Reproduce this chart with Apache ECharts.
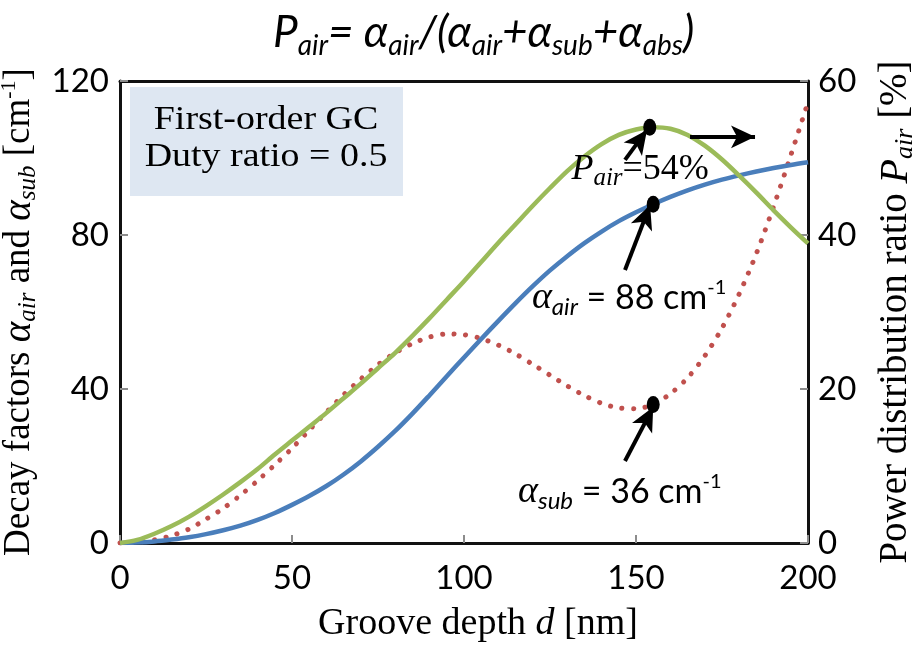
<!DOCTYPE html>
<html>
<head>
<meta charset="utf-8">
<script src="https://cdn.jsdelivr.net/npm/echarts@6/dist/echarts.min.js"></script>
<style>
  html, body { margin: 0; padding: 0; background: #ffffff; }
  #chart { width: 914px; height: 650px; }
</style>
</head>
<body>
<div id="chart"></div>
<script>
// Groove depth d [nm]
const depth = [0, 5, 10, 15, 20, 25, 30, 35, 40, 45, 50, 55, 60, 65, 70, 75, 80, 85, 90, 95,
  100, 105, 110, 115, 120, 125, 130, 135, 140, 145, 150, 155, 160, 165, 170, 175, 180, 185, 190, 195, 200];

// Decay factor into air, alpha_air [cm^-1]
const alphaAir = [0, 0.1, 0.4, 0.9, 1.5, 2.3, 3.3, 4.5, 6.0, 7.8, 9.9, 12.2, 14.8, 17.8, 21.2, 25.0, 29.1, 33.6, 38.4, 43.3,
  48.2, 53.0, 57.7, 62.3, 66.7, 70.8, 74.5, 77.9, 80.9, 83.6, 85.9, 88.0, 89.9, 91.6, 93.1, 94.4, 95.5, 96.5, 97.4, 98.2, 98.9];

// Decay factor into substrate, alpha_sub [cm^-1]
const alphaSub = [0, 0.2, 0.8, 1.9, 3.6, 6.2, 9.0, 12.4, 16.2, 20.3, 24.6, 29.3, 34.0, 38.5, 42.6, 46.3, 49.4, 51.8, 53.5, 54.3,
  54.1, 53.1, 51.4, 49.1, 46.4, 43.6, 40.8, 38.3, 36.3, 35.1, 34.9, 36.0, 38.8, 42.9, 48.6, 55.8, 64.7, 75.2, 87.4, 100.7, 114.5];

// Power distribution ratio P_air [%]
const pAir = [0, 0.4, 1.2, 2.2, 3.4, 4.8, 6.3, 7.9, 9.6, 11.5, 13.3, 15.1, 16.9, 18.8, 20.7, 22.7, 24.7, 26.9, 29.2, 31.6,
  34.0, 36.5, 39.0, 41.4, 43.8, 46.1, 48.3, 50.2, 51.8, 53.0, 53.7, 54.0, 53.8, 53.0, 51.6, 49.8, 47.7, 45.5, 43.2, 41.0, 38.9];

// Highlighted points: [d, value]
const markerPAir = [154, 54];
const markerAir = [155, 88];
const markerSub = [155, 36];

// Axis ranges: [min, max, interval]
const xRange = [0, 200, 50];
const leftRange = [0, 120, 40];
const rightRange = [0, 60, 20];

const SERIF = 'Liberation Serif';
const SANS = 'Lato';
const pairs = (xs, ys) => xs.map((x, i) => [x, ys[i]]);

const chart = echarts.init(document.getElementById('chart'), null, { renderer: 'canvas' });

const frameLine = { show: true, onZero: false, lineStyle: { color: '#111', width: 3 } };
const tickStyle = { show: true, inside: true, length: 8, lineStyle: { color: '#8c8c8c', width: 2 } };
const labelStyle = { color: '#000', fontFamily: SANS, fontSize: 33 };

const richLabel = {
  a: { fontFamily: SERIF, fontStyle: 'italic', fontSize: 38, lineHeight: 42, color: '#000' },
  s: { fontFamily: SANS, fontStyle: 'italic', fontWeight: 'normal', fontSize: 24, lineHeight: 24, verticalAlign: 'bottom', color: '#000' },
  t: { fontFamily: SANS, fontSize: 34, lineHeight: 42, color: '#000' },
  p: { fontFamily: SANS, fontSize: 20, lineHeight: 20, verticalAlign: 'top', color: '#000' }
};

const arrowLine = (from, to) => [{ coord: from }, { coord: to }];

const option = {
  animation: false,
  backgroundColor: '#ffffff',
  title: {
    text: '{i|P}{s|air}{i|= α}{s|air}{i|/(α}{s|air}{i|+α}{s|sub}{i|+α}{s|abs}{i|)}',
    left: 268,
    top: 1,
    textStyle: {
      rich: {
        i: { fontFamily: SANS, fontStyle: 'italic', fontWeight: 'normal', fontSize: 44, lineHeight: 54, color: '#000' },
        s: { fontFamily: SANS, fontStyle: 'italic', fontWeight: 'normal', fontSize: 28, lineHeight: 28, verticalAlign: 'bottom', color: '#000' }
      }
    }
  },
  grid: {
    left: 120, right: 106, top: 81, bottom: 107,
    show: false,
    containLabel: false,
    outerBoundsMode: 'none'
  },
  xAxis: [
    {
      type: 'value', min: xRange[0], max: xRange[1], interval: xRange[2],
      position: 'bottom',
      splitLine: { show: false },
      axisLine: frameLine,
      axisTick: tickStyle,
      axisLabel: Object.assign({ margin: 19 }, labelStyle),
      name: '{t|Groove depth }{i|d}{t| [nm]}',
      nameLocation: 'middle',
      nameGap: 62,
      nameTextStyle: {
        padding: [0, 0, 0, 28],
        rich: {
          t: { fontFamily: SERIF, fontSize: 38, color: '#000' },
          i: { fontFamily: SERIF, fontStyle: 'italic', fontSize: 38, color: '#000' }
        }
      }
    },
    {
      type: 'value', min: xRange[0], max: xRange[1], interval: xRange[2],
      position: 'top',
      splitLine: { show: false },
      axisLine: frameLine,
      axisTick: { show: false },
      axisLabel: { show: false }
    }
  ],
  yAxis: [
    {
      type: 'value', min: leftRange[0], max: leftRange[1], interval: leftRange[2],
      position: 'left',
      splitLine: { show: false },
      axisLine: frameLine,
      axisTick: tickStyle,
      axisLabel: Object.assign({ margin: 11 }, labelStyle),
      name: '{t|Decay factors }{a|α}{s|air}{t| and }{a|α}{s|sub}{t| [cm}{p|-1}{t|]}',
      nameLocation: 'middle',
      nameRotate: 90,
      nameGap: 70,
      nameTextStyle: {
        rich: {
          t: { fontFamily: SERIF, fontSize: 37, lineHeight: 42, color: '#000' },
          a: { fontFamily: SERIF, fontStyle: 'italic', fontSize: 39, lineHeight: 42, color: '#000' },
          s: { fontFamily: SERIF, fontStyle: 'italic', fontSize: 25, lineHeight: 25, verticalAlign: 'bottom', color: '#000' },
          p: { fontFamily: SERIF, fontSize: 22, lineHeight: 22, verticalAlign: 'top', color: '#000' }
        }
      }
    },
    {
      type: 'value', min: rightRange[0], max: rightRange[1], interval: rightRange[2],
      position: 'right',
      splitLine: { show: false },
      axisLine: frameLine,
      axisTick: tickStyle,
      axisLabel: Object.assign({ margin: 10 }, labelStyle),
      name: '{t|Power distribution ratio }{i|P}{s|air}{t| [%]}',
      nameLocation: 'middle',
      nameRotate: 90,
      nameGap: 66,
      nameTextStyle: {
        rich: {
          t: { fontFamily: SERIF, fontSize: 39, lineHeight: 44, color: '#000' },
          i: { fontFamily: SERIF, fontStyle: 'italic', fontSize: 40, lineHeight: 44, color: '#000' },
          s: { fontFamily: SERIF, fontStyle: 'italic', fontSize: 26, lineHeight: 26, verticalAlign: 'bottom', color: '#000' }
        }
      }
    }
  ],
  graphic: [
    {
      type: 'rect', z: 5,
      shape: { x: 130, y: 87, width: 273, height: 109 },
      style: { fill: '#dee7f2' }
    },
    {
      type: 'text', z: 6, x: 266, y: 139,
      scaleX: 1.15, originX: 0, originY: 0,
      style: {
        text: 'First-order GC\nDuty ratio = 0.5',
        font: '33px "Liberation Serif"',
        lineHeight: 37,
        textAlign: 'center',
        textVerticalAlign: 'middle',
        fill: '#000'
      }
    }
  ],
  series: [
    {
      name: 'alpha_sub', type: 'line', xAxisIndex: 0, yAxisIndex: 0,
      data: pairs(depth, alphaSub),
      smooth: 0.3, showSymbol: false,
      lineStyle: { color: '#c0504d', width: 5, type: [0.1, 11.5], cap: 'round' },
      z: 2
    },
    {
      name: 'alpha_air', type: 'line', xAxisIndex: 0, yAxisIndex: 0,
      data: pairs(depth, alphaAir),
      smooth: 0.3, showSymbol: false,
      lineStyle: { color: '#4a7ebb', width: 4.5 },
      z: 3
    },
    {
      name: 'P_air', type: 'line', xAxisIndex: 0, yAxisIndex: 1,
      data: pairs(depth, pAir),
      smooth: 0.3, showSymbol: false,
      lineStyle: { color: '#9bbb59', width: 4.5 },
      z: 4
    },
    {
      name: 'alpha points', type: 'scatter', xAxisIndex: 0, yAxisIndex: 0,
      data: [markerAir, markerSub],
      symbol: 'circle', symbolSize: [13, 17],
      itemStyle: { color: '#000', opacity: 1 },
      z: 10,
      markLine: {
        silent: true, animation: false,
        symbol: ['none', 'arrow'], symbolSize: [17, 24],
        lineStyle: { color: '#000', width: 4, type: 'solid', opacity: 1 },
        label: { show: false },
        data: [
          arrowLine([146.8, 70.9], [154.1, 87.8]),
          arrowLine([146.8, 21.3], [155.0, 35.3]),
          arrowLine([165.7, 105.5], [184.6, 105.5])
        ]
      },
      markPoint: {
        silent: true, symbol: 'circle', symbolSize: 0,
        data: [
          {
            coord: [148, 63.6],
            label: { show: true, position: 'inside', formatter: '{a|α}{s|air}{t| = ' + markerAir[1] + ' cm}{p|-1}', rich: richLabel }
          },
          {
            coord: [145.3, 13.2],
            label: { show: true, position: 'inside', formatter: '{a|α}{s|sub}{t| = ' + markerSub[1] + ' cm}{p|-1}', rich: richLabel }
          }
        ]
      }
    },
    {
      name: 'P point', type: 'scatter', xAxisIndex: 0, yAxisIndex: 1,
      data: [markerPAir],
      symbol: 'circle', symbolSize: [13, 17],
      itemStyle: { color: '#000', opacity: 1 },
      z: 10,
      markLine: {
        silent: true, animation: false,
        symbol: ['none', 'arrow'], symbolSize: [17, 24],
        lineStyle: { color: '#000', width: 4, type: 'solid', opacity: 1 },
        label: { show: false },
        data: [
          arrowLine([146.8, 49.75], [153.2, 53.65])
        ]
      },
      markPoint: {
        silent: true, symbol: 'circle', symbolSize: 0,
        data: [
          {
            coord: [151.2, 48.45],
            label: {
              show: true, position: 'inside',
              formatter: '{i|P}{s|air}{t|=' + markerPAir[1] + '%}',
              rich: {
                i: { fontFamily: SERIF, fontStyle: 'italic', fontSize: 36, lineHeight: 42, color: '#000' },
                s: { fontFamily: SERIF, fontStyle: 'italic', fontSize: 25, lineHeight: 25, verticalAlign: 'bottom', color: '#000' },
                t: { fontFamily: SERIF, fontSize: 36, lineHeight: 42, color: '#000' }
              }
            }
          }
        ]
      }
    }
  ]
};

chart.setOption(option);
</script>
</body>
</html>
